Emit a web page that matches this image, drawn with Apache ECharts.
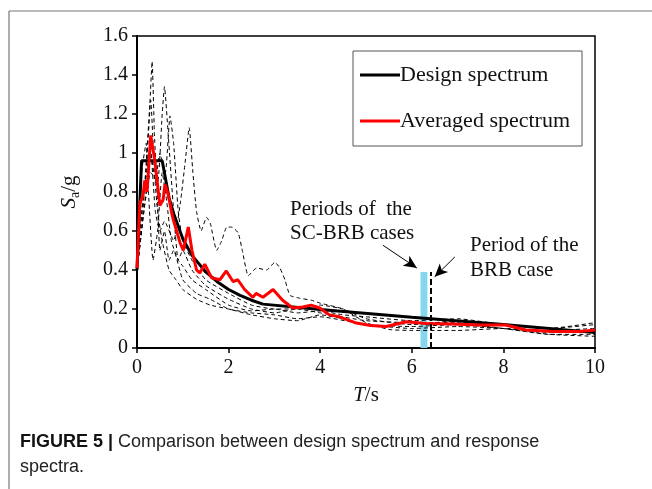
<!DOCTYPE html>
<html><head><meta charset="utf-8">
<script src="https://cdn.jsdelivr.net/npm/echarts@6/dist/echarts.min.js"></script>
<style>html,body{margin:0;padding:0;background:#fff}#c{width:652px;height:489px}</style>
</head><body><div id="c"></div>
<script>
// Design spectrum [T, Sa/g]
const designData = [[0,0.4],[0.1,0.96],[0.55,0.96],[0.7,0.77],[0.8,0.69],[1.0,0.56],[1.2,0.475],[1.5,0.39],[1.75,0.34],[2.0,0.30],[2.25,0.27],[2.5,0.245],[2.75,0.225],[4,0.198],[6,0.158],[8,0.12],[10,0.08]];
// Averaged spectrum
const averagedData = [[0,0.41],[0.06,0.74],[0.13,0.78],[0.17,0.86],[0.22,0.8],[0.3,1.09],[0.39,0.96],[0.5,0.73],[0.57,0.76],[0.61,0.84],[0.68,0.79],[0.76,0.69],[0.79,0.66],[0.94,0.54],[1.01,0.5],[1.12,0.62],[1.2,0.5],[1.3,0.4],[1.37,0.385],[1.48,0.43],[1.63,0.36],[1.81,0.35],[1.95,0.395],[2.1,0.34],[2.2,0.35],[2.35,0.30],[2.53,0.26],[2.6,0.28],[2.75,0.26],[2.97,0.30],[3.18,0.245],[3.4,0.205],[3.62,0.21],[3.8,0.22],[3.99,0.205],[4.2,0.17],[4.42,0.16],[4.79,0.128],[5.1,0.115],[5.44,0.11],[5.88,0.135],[6.31,0.126],[6.89,0.123],[7.47,0.118],[8.05,0.118],[8.49,0.092],[9.07,0.084],[9.65,0.084],[10,0.092]];
// Individual record spectra (dashed)
const record1 = [[0,0.4],[0.1,0.6],[0.2,0.95],[0.28,1.25],[0.33,1.47],[0.38,1.1],[0.45,0.75],[0.5,0.5],[0.6,0.6],[0.7,0.45],[0.8,0.5],[1.0,0.35],[1.3,0.28],[1.6,0.25],[2,0.2],[2.5,0.18],[3,0.17],[3.5,0.15],[4,0.16],[5,0.12],[6,0.1],[7,0.11],[8,0.1],[9,0.07],[10,0.06]];
const record2 = [[0,0.4],[0.15,0.7],[0.3,0.9],[0.45,0.85],[0.55,1.2],[0.6,1.34],[0.68,1.1],[0.8,0.7],[0.9,0.45],[1.0,0.5],[1.2,0.4],[1.5,0.32],[2,0.25],[2.5,0.2],[3,0.18],[3.5,0.2],[4,0.18],[5,0.14],[6,0.13],[7,0.13],[8,0.1],[9,0.09],[10,0.1]];
const record3 = [[0,0.4],[0.15,0.8],[0.3,1.0],[0.4,0.85],[0.5,1.0],[0.62,0.9],[0.72,1.19],[0.8,1.05],[0.9,0.7],[1.0,0.55],[1.2,0.45],[1.5,0.35],[2,0.28],[2.5,0.22],[3,0.2],[3.5,0.2],[4,0.22],[4.5,0.2],[5,0.15],[6,0.12],[7,0.14],[8,0.12],[9,0.1],[10,0.13]];
const record4 = [[0,0.4],[0.15,0.7],[0.3,1.0],[0.4,0.7],[0.5,0.6],[0.6,0.65],[0.8,0.55],[0.95,0.75],[1.05,0.95],[1.14,1.13],[1.22,0.9],[1.3,0.7],[1.4,0.6],[1.52,0.67],[1.6,0.64],[1.74,0.5],[1.85,0.55],[1.96,0.62],[2.07,0.62],[2.21,0.59],[2.3,0.5],[2.43,0.37],[2.61,0.41],[2.83,0.40],[3.01,0.44],[3.12,0.41],[3.23,0.35],[3.34,0.27],[3.56,0.255],[3.81,0.245],[4.0,0.23],[4.5,0.2],[5,0.13],[5.5,0.095],[6,0.09],[7,0.09],[8,0.1],[9,0.08],[10,0.08]];
const record5 = [[0,0.4],[0.1,0.7],[0.2,0.9],[0.3,1.27],[0.38,0.9],[0.45,0.7],[0.55,0.55],[0.7,0.4],[0.85,0.35],[1,0.3],[1.3,0.25],[1.6,0.22],[2,0.2],[2.5,0.17],[3,0.15],[3.5,0.14],[4,0.17],[4.5,0.15],[5,0.12],[6,0.11],[7,0.12],[8,0.1],[9,0.07],[10,0.07]];
const record6 = [[0,0.4],[0.1,0.9],[0.2,1.05],[0.25,0.8],[0.35,0.45],[0.45,0.6],[0.55,0.9],[0.65,0.75],[0.75,0.55],[0.9,0.45],[1.0,0.42],[1.2,0.35],[1.5,0.3],[2,0.22],[2.5,0.19],[3,0.2],[3.5,0.18],[4,0.19],[4.5,0.17],[5,0.16],[6,0.14],[7,0.15],[8,0.12],[9,0.1],[10,0.12]];
const records = [record1, record2, record3, record4, record5, record6];
// Period markers
const scBand = [6.19, 6.34];
const brbPeriod = 6.42;
const markerTop = 0.39;
const arrow1 = [[5.37,0.527],[6.11,0.41]];
const arrow2 = [[6.94,0.467],[6.5,0.365]];
const xTicks = {min:0, max:10, interval:2};
const yTicks = {min:0, max:1.6, interval:0.2};

const serif = 'Liberation Serif';
const chart = echarts.init(document.getElementById('c'));
const series = records.map((r, i) => ({
  name: 'rec' + (i+1), type: 'line', data: r, symbol: 'none', smooth: 0.15,
  lineStyle: {color: '#000', width: 1, type: [4, 3]}, z: 2,
  silent: true
}));
series[0].markArea = {
  silent: true,
  itemStyle: {color: '#86d6ee', opacity: 1},
  data: [[{coord: [scBand[0], 0]}, {coord: [scBand[1], markerTop]}]]
};
series.push({
  name: 'Design spectrum', type: 'line', data: designData, symbol: 'none',
  lineStyle: {color: '#000', width: 3}, itemStyle: {color: '#000'}, z: 3,
  markLine: {
    silent: true, animation: false,
    label: {show: false},
    symbol: ['none', 'none'],
    lineStyle: {color: '#000', width: 2, type: [6, 3]},
    data: [[{coord: [brbPeriod, 0]}, {coord: [brbPeriod, markerTop]}]]
  }
});
series.push({
  name: 'Averaged spectrum', type: 'line', data: averagedData, symbol: 'none',
  lineStyle: {color: '#ff0000', width: 3}, itemStyle: {color: '#ff0000'}, z: 4,
  markLine: {
    silent: true, animation: false,
    label: {show: false},
    symbol: ['none', 'arrow'], symbolSize: [9, 13],
    lineStyle: {color: '#000', width: 1, type: 'solid'},
    data: [[{coord: arrow1[0]}, {coord: arrow1[1]}], [{coord: arrow2[0]}, {coord: arrow2[1]}]]
  }
});

chart.setOption({
  animation: false,
  grid: {left: 137, right: 57, top: 36, bottom: 141, show: true, borderColor: '#000', borderWidth: 1.5},
  legend: {
    data: [{name: 'Design spectrum', icon: 'rect', itemStyle: {color: '#000'}},
           {name: 'Averaged spectrum', icon: 'rect', itemStyle: {color: '#ff0000'}}],
    orient: 'vertical', left: 353, top: 51, itemWidth: 40, itemHeight: 3, itemGap: 24,
    borderColor: '#555', borderWidth: 1, padding: [13, 12, 14, 7],
    textStyle: {fontFamily: serif, fontSize: 22, color: '#111', padding: [0, 0, 0, -5]}
  },
  xAxis: {
    type: 'value', min: xTicks.min, max: xTicks.max, interval: xTicks.interval,
    axisLine: {lineStyle: {color: '#000', width: 2}},
    axisTick: {inside: false, length: 5, lineStyle: {color: '#000', width: 1.5}},
    splitLine: {show: false},
    axisLabel: {fontFamily: serif, fontSize: 20, color: '#111', margin: 10},
    name: '{i|T}/s', nameLocation: 'middle', nameGap: 37,
    nameTextStyle: {fontFamily: serif, fontSize: 21, color: '#111', rich: {i: {fontFamily: serif, fontSize: 21, fontStyle: 'italic', color: '#111'}}}
  },
  yAxis: {
    type: 'value', min: yTicks.min, max: yTicks.max, interval: yTicks.interval,
    axisLine: {lineStyle: {color: '#000', width: 2}},
    axisTick: {inside: false, length: 5, lineStyle: {color: '#000', width: 1.5}},
    splitLine: {show: false},
    axisLabel: {fontFamily: serif, fontSize: 20, color: '#111', margin: 9},
    name: '{i|S}{a|a}/g', nameLocation: 'middle', nameGap: 55, nameRotate: 90,
    nameTextStyle: {fontFamily: serif, fontSize: 21, color: '#111',
      rich: {i: {fontFamily: serif, fontSize: 21, fontStyle: 'italic', color: '#111'},
             a: {fontFamily: serif, fontSize: 14, color: '#111', padding: [12, 0, 0, 0]}}}
  },
  graphic: [
    {type: 'line', shape: {x1: 9, y1: 11, x2: 652, y2: 11}, style: {stroke: '#777', lineWidth: 1.2}},
    {type: 'line', shape: {x1: 9, y1: 11, x2: 9, y2: 489}, style: {stroke: '#777', lineWidth: 1.2}},
    {type: 'text', left: 290, top: 199, style: {text: 'Periods of  the', font: '21px "Liberation Serif"', fill: '#111'}},
    {type: 'text', left: 290, top: 223, style: {text: 'SC-BRB cases', font: '21px "Liberation Serif"', fill: '#111'}},
    {type: 'text', left: 470, top: 235, style: {text: 'Period of the', font: '21px "Liberation Serif"', fill: '#111'}},
    {type: 'text', left: 470, top: 260, style: {text: 'BRB case', font: '21px "Liberation Serif"', fill: '#111'}},
    {type: 'text', left: 20, top: 430, style: {
      text: '{b|FIGURE 5 |} Comparison between design spectrum and response\nspectra.',
      font: '18px "Liberation Sans"', fill: '#222', lineHeight: 25,
      rich: {b: {font: 'bold 18px "Liberation Sans"', fill: '#111'}}}}
  ],
  series: series
});
</script></body></html>
